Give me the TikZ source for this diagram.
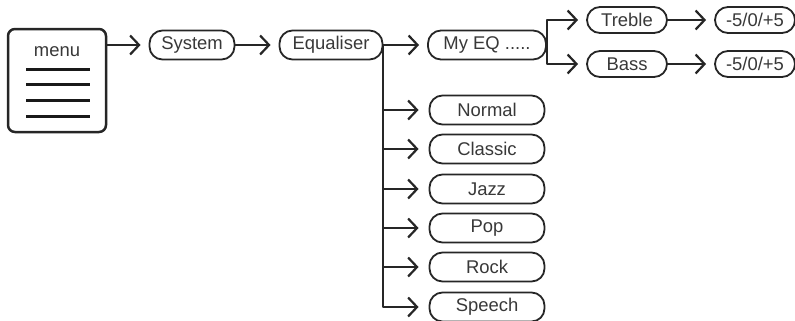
\documentclass[tikz,border=0pt]{standalone}
\usepackage{fontspec}
\setmainfont{Liberation Sans}
\usetikzlibrary{arrows.meta}

\begin{document}
\begin{tikzpicture}[x=1bp,y=-1bp,line width=2bp,line cap=round,line join=round,
  font=\fontsize{18.5}{22}\selectfont,text=black!78,
  pill/.style={draw=black!85,line width=1.8bp,rounded corners=13bp,minimum height=29bp,inner sep=0pt},
  link/.style={draw=black!85,-{Straight Barb[length=9bp,width=19bp,line width=2.2bp]},shorten >=8bp}]
\useasboundingbox (0,0) rectangle (795,320);
% menu box
\draw[black!85,line width=2.5bp,rounded corners=7bp] (8,29) rectangle (106,132);
\node (menu) at (57,52) {menu};
\foreach \y in {69,84,100,116}
  \draw[black!90,line width=3bp,line cap=butt] (26,\y) -- (90,\y);
\coordinate (menuout) at (106,45);
% first row
\node[pill,minimum width=85bp] (sys) at (192,45) {System};
\node[pill,minimum width=103bp] (eq) at (331,45) {Equaliser};
\node[pill,minimum width=118bp] (myeq) at (487,45) {My EQ .....};
\node[pill,minimum width=80bp,minimum height=26bp] (treble) at (627,20) {Treble};
\node[pill,minimum width=80bp,minimum height=26bp] (bass) at (627,64) {Bass};
\node[pill,minimum width=80bp,minimum height=26bp] (tval) at (755,20) {-5/0/+5};
\node[pill,minimum width=80bp,minimum height=26bp] (bval) at (755,64) {-5/0/+5};
\draw[link] (menuout) -- (sys);
\draw[link] (sys) -- (eq);
\draw[link] (eq) -- (myeq);
\draw[link] (myeq.east) |- (treble);
\draw[link] (myeq.east) |- (bass);
\draw[link] (treble) -- (tval);
\draw[link] (bass) -- (bval);
% presets
\coordinate (eqfork) at (eq.east);
\foreach \name/\y in {Normal/110,Classic/149,Jazz/189,Pop/228,Rock/267,Speech/307} {
  \node[pill,minimum width=115bp] (\name) at (487,\y) {\name};
  \draw[link,shorten >=10bp] (eqfork) |- (\name);
}
\end{tikzpicture}
\end{document}
